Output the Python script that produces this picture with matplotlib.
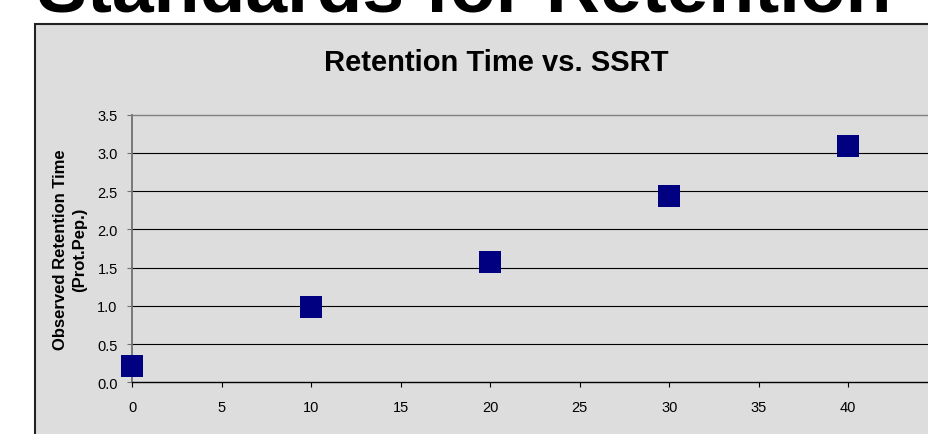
import numpy as np
import matplotlib
matplotlib.use("Agg")
import matplotlib.pyplot as plt
from matplotlib.patches import Rectangle

matplotlib.rc('font', family='Liberation Sans', size=10)

# data
ssrt = [0, 10, 20, 30, 40]
ret_time = [0.21, 0.98, 1.57, 2.44, 3.09]
xticks = [0, 5, 10, 15, 20, 25, 30, 35, 40, 45]
yticks = [0.0, 0.5, 1.0, 1.5, 2.0, 2.5, 3.0, 3.5]

W, H = 929, 435
fig = plt.figure(figsize=(W / 100, H / 100), dpi=100)
fig.patch.set_facecolor('white')

# slide title (cut off at the top)
fig.text(37 / W, 1 - 12 / H, "Standards for Retention Time", fontsize=54,
         fontweight='bold', ha='left', va='baseline')

# excel chart area
frame = Rectangle((35 / W, -0.2), 1.0, 0.2 + (1 - 25 / H), transform=fig.transFigure,
                  facecolor='#dddddd', edgecolor='#222222', linewidth=1.5, zorder=-1)
fig.patches.append(frame)

# chart title
fig.text(496 / W, 1 - 71 / H, "Retention Time vs. SSRT", fontsize=21,
         fontweight='bold', ha='center', va='baseline')

x0, x1 = 132.3, 937.8
y0, y1 = 383.3, 115.7
ax = fig.add_axes([x0 / W, 1 - y0 / H, (x1 - x0) / W, (y0 - y1) / H])
ax.set_facecolor('none')

ax.plot(ssrt, ret_time, linestyle='none', marker='s', markersize=16,
        color='#000080', markeredgewidth=0, clip_on=False, zorder=5)

ax.set_xlim(0, 45)
ax.set_ylim(0, 3.5)
ax.set_xticks(xticks)
ax.set_yticks(yticks)
ax.set_yticklabels(["%.1f" % v for v in yticks])

for v in yticks[1:-1]:
    ax.axhline(v, color='black', linewidth=0.8, zorder=1)

ax.spines['right'].set_visible(False)
ax.spines['top'].set_color('#808080')
ax.spines['top'].set_linewidth(1.0)
ax.spines['left'].set_color('#707070')
ax.spines['left'].set_linewidth(1.3)
ax.spines['bottom'].set_color('black')
ax.spines['bottom'].set_linewidth(1.0)

ax.tick_params(axis='x', direction='out', length=3.5, width=0.8, pad=9.5,
               labelsize=10.5, colors='black')
ax.tick_params(axis='y', direction='out', length=3.5, width=0.8, pad=7,
               labelsize=10.5, colors='black')
ax.tick_params(axis='y', color='#707070')

ax.set_xlabel("Estimated SSRT (Prot.Pep.)", fontsize=12, fontweight='bold', labelpad=14)
ax.set_ylabel("Observed Retention Time\n(Prot.Pep.)", fontsize=12, fontweight='bold',
              labelpad=7.5, linespacing=1.3)

fig.savefig('out.png', dpi=100)
